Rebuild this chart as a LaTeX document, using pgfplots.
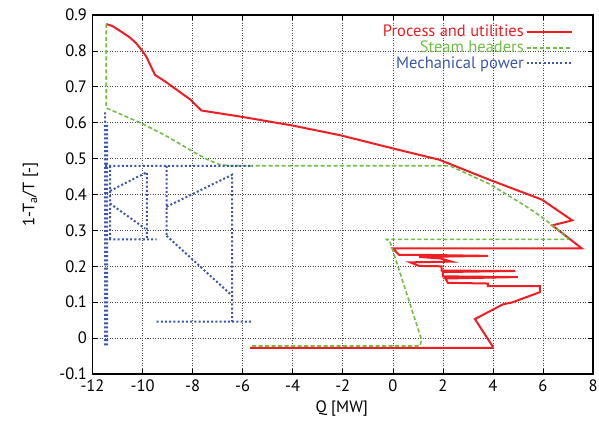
\documentclass[border=0pt]{standalone}
\usepackage{fontspec}
\setmainfont{PT Sans}
\usepackage{pgfplots}
\pgfplotsset{compat=1.18}
\definecolor{procred}{RGB}{237,30,36}
\definecolor{steamgreen}{RGB}{112,190,72}
\definecolor{mechblue}{RGB}{58,88,172}
\begin{document}
\fontsize{16.5}{19}\selectfont
\begin{tikzpicture}
\begin{axis}[
  width=500.5pt, height=359pt, scale only axis,
  xmin=-12, xmax=8, ymin=-0.1, ymax=0.9,
  xtick={-12,-10,...,8},
  ytick={-0.1,0,0.1,0.2,0.3,0.4,0.5,0.6,0.7,0.8,0.9},
  /pgf/number format/assume math mode=true,
  yticklabel style={/pgf/number format/.cd, fixed, precision=1},
  tick label style={font=\fontsize{16.5}{19}\selectfont},
  label style={font=\fontsize{16.5}{19}\selectfont},
  tick align=inside, major tick length=5pt,
  tick style={black, line width=0.6pt},
  axis line style={black, line width=1.2pt},
  grid=major,
  major grid style={black!70, line width=0.6pt, dash pattern=on 1pt off 1.5pt},
  xlabel={Q [MW]}, ylabel={1-T\textsubscript{a}/T [-]},
  xlabel style={at={(axis description cs:0.498,-0.097)}, anchor=center},
  ylabel style={at={(axis description cs:-0.124,0.5)}, anchor=center},
  legend style={at={(0.966,0.984)}, anchor=north east, draw=none, fill=none,
    font=\fontsize{16.5}{19}\selectfont, row sep=-2.5pt},
  legend cell align=right,
  legend plot pos=right,
  legend image code/.code={\draw[#1] (9pt,0pt) -- (54pt,0pt);},
  unbounded coords=jump,
]
\addplot[procred, line width=2pt] coordinates {
(-11.45,0.875) (-11.2,0.869) (-10.97,0.859) (-10.75,0.849) (-10.5,0.837)
(-10.25,0.821) (-10.03,0.802) (-9.85,0.784) (-9.7,0.762) (-9.5,0.733)
(-9.1,0.715) (-8.6,0.690) (-8.1,0.665) (-7.65,0.634) (-6.0,0.616) (-4.0,0.592)
(-2.1,0.565) (0.2,0.525) (1.85,0.497) (3.9,0.440) (5.95,0.386) (7.17,0.328)
(6.37,0.314) (7.55,0.250) (0.0,0.250) (0.25,0.232) (1.05,0.232) (3.80,0.229)
(1.05,0.226) (1.9,0.222) (2.35,0.213) (0.70,0.211) (1.05,0.201) (1.95,0.200)
(1.95,0.188) (4.90,0.187) (2.0,0.184) (2.0,0.172) (5.00,0.170) (2.1,0.166)
(2.2,0.154) (3.80,0.152) (3.80,0.145) (5.88,0.145) (5.88,0.128) (4.75,0.099)
(4.40,0.094) (3.28,0.053) (3.99,-0.023) (3.99,-0.027) (-5.7,-0.027)
};
\addlegendentry{\textcolor{procred}{Process and utilities}}
\addplot[steamgreen, line width=1.6pt, dash pattern=on 4pt off 2.5pt] coordinates {
(-11.45,0.875) (-11.45,0.641) (-10.0,0.597) (-9.0,0.561) (-8.0,0.520) (-7.4,0.497)
(-6.9,0.483) (-6.5,0.480) (2.28,0.480) (3.0,0.457) (3.9,0.428) (4.55,0.400)
(5.3,0.368) (5.9,0.340) (6.5,0.307) (7.0,0.277) (7.0,0.275) (-0.25,0.275)
(-0.1,0.266) (1.15,-0.005) (1.08,-0.022) (-5.7,-0.022)
};
\addlegendentry{\textcolor{steamgreen}{Steam headers}}
\addplot[mechblue, line width=2pt, dash pattern=on 2pt off 2.2pt] coordinates {
(-11.5,-0.02) (-11.5,0.63) (nan,nan)
(-11.42,-0.02) (-11.42,0.60) (nan,nan)
(-11.5,0.48) (-5.6,0.48) (nan,nan)
(-11.3,0.48) (-11.3,0.275) (nan,nan)
(-11.3,0.41) (-9.83,0.462) (-9.83,0.275) (nan,nan)
(-11.3,0.375) (-9.9,0.305) (nan,nan)
(-11.5,0.275) (-9.44,0.275) (nan,nan)
(-9.04,0.48) (-9.04,0.285) (nan,nan)
(-9.04,0.366) (-6.42,0.455) (-6.42,0.046) (nan,nan)
(-9.04,0.285) (-6.42,0.118) (nan,nan)
(-9.44,0.046) (-5.6,0.046)
};
\addlegendentry{\textcolor{mechblue}{Mechanical power}}
\end{axis}
\pgfresetboundingbox
\path ([shift={(-92.5pt,-53pt)}]current axis.south west) rectangle ([shift={(6pt,15pt)}]current axis.north east);
\end{tikzpicture}
\end{document}
